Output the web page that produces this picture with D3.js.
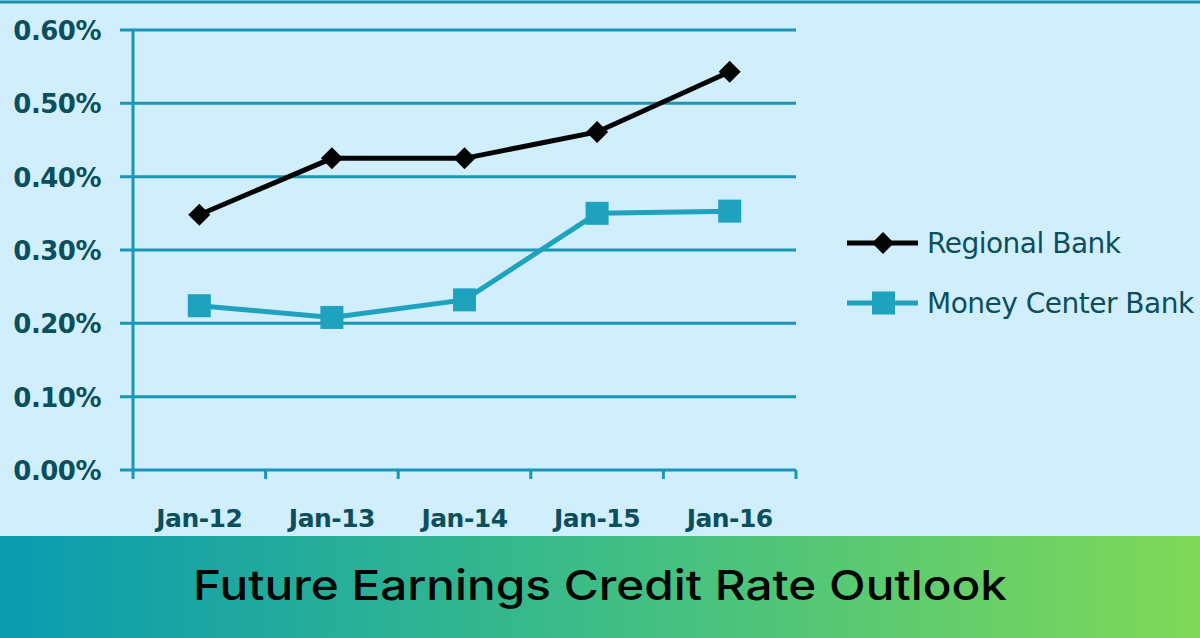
<!DOCTYPE html>
<html>
<head>
<meta charset="utf-8">
<script src="https://cdn.jsdelivr.net/npm/d3@7"></script>
<style>
  body { margin: 0; background: #d0eefb; }
  svg { display: block; }
</style>
</head>
<body>
<div id="chart"></div>
<script>
const categories = ["Jan-12", "Jan-13", "Jan-14", "Jan-15", "Jan-16"];
const regional = [0.348, 0.425, 0.425, 0.461, 0.543];
const moneyCenter = [0.224, 0.208, 0.232, 0.350, 0.353];
const yTicks = [0, 0.1, 0.2, 0.3, 0.4, 0.5, 0.6];
const seriesNames = ["Regional Bank", "Money Center Bank"];

function drawChart() {
    var w = 1200;
    var h = 638;
    var grid = "#1996b6";
    var labelColor = "#0b4f5c";
    var teal = "#1ea2bd";

    var svg = d3.select("#chart")
                .append("svg")
                .attr("width", w)
                .attr("height", h);

    svg.append("rect")
        .attr("width", w).attr("height", h)
        .attr("fill", "#d0eefb");

    // top border line
    svg.append("line")
        .attr("x1", 0).attr("x2", w)
        .attr("y1", 2).attr("y2", 2)
        .attr("stroke", "#1a8fae")
        .attr("stroke-width", 3);

    var xScale = d3.scaleBand()
                .domain(categories)
                .range([133, 796]);

    var yScale = d3.scaleLinear()
                .domain([0, 0.6])
                .range([470, 30]);

    // grid lines
    svg.append("g")
        .selectAll("line")
        .data(yTicks)
        .enter()
        .append("line")
        .attr("x1", 120)
        .attr("x2", 796)
        .attr("y1", d => yScale(d))
        .attr("y2", d => yScale(d))
        .attr("stroke", grid)
        .attr("stroke-width", 3);

    // y axis line
    svg.append("line")
        .attr("x1", 133).attr("x2", 133)
        .attr("y1", yScale(0.6) - 1).attr("y2", 479)
        .attr("stroke", grid)
        .attr("stroke-width", 3);

    // x ticks at band edges
    var edges = categories.map(c => xScale(c)).concat([xScale.range()[1]]);
    svg.append("g")
        .selectAll("line")
        .data(edges.slice(1))
        .enter()
        .append("line")
        .attr("x1", d => d).attr("x2", d => d)
        .attr("y1", 470).attr("y2", 479)
        .attr("stroke", grid)
        .attr("stroke-width", 3);

    // y tick labels
    svg.append("g")
        .selectAll("text")
        .data(yTicks)
        .enter()
        .append("text")
        .attr("x", 101)
        .attr("y", d => yScale(d) + 10)
        .attr("text-anchor", "end")
        .attr("fill", labelColor)
        .style("font-family", "'DejaVu Sans', sans-serif")
        .style("font-size", "26px")
        .style("font-weight", "bold")
        .style("letter-spacing", "-0.5px")
        .text(d => d3.format(".2f")(d) + "%");

    // x tick labels
    svg.append("g")
        .selectAll("text")
        .data(categories)
        .enter()
        .append("text")
        .attr("x", d => xScale(d) + xScale.bandwidth() / 2)
        .attr("y", 527)
        .attr("text-anchor", "middle")
        .attr("fill", labelColor)
        .style("font-family", "'DejaVu Sans', sans-serif")
        .style("font-size", "25px")
        .style("font-weight", "bold")
        .style("letter-spacing", "-0.5px")
        .text(d => d);

    var cx = d => xScale(d) + xScale.bandwidth() / 2;

    var line = d3.line()
            .x((d, i) => cx(categories[i]))
            .y(d => yScale(d));

    // money center line
    svg.append("path")
        .datum(moneyCenter)
        .attr("fill", "none")
        .attr("stroke", teal)
        .attr("stroke-width", 5)
        .attr("d", line);

    svg.append("g")
        .selectAll("rect")
        .data(moneyCenter)
        .enter()
        .append("rect")
        .attr("x", (d, i) => cx(categories[i]) - 11.5)
        .attr("y", d => yScale(d) - 11.5)
        .attr("width", 23)
        .attr("height", 23)
        .attr("fill", teal);

    // regional line
    svg.append("path")
        .datum(regional)
        .attr("fill", "none")
        .attr("stroke", "#050505")
        .attr("stroke-width", 5)
        .attr("d", line);

    var diamond = d3.symbol().type(d3.symbolDiamond2).size(310);
    svg.append("g")
        .selectAll("path")
        .data(regional)
        .enter()
        .append("path")
        .attr("d", diamond)
        .attr("transform", (d, i) => "translate(" + cx(categories[i]) + "," + yScale(d) + ")")
        .attr("fill", "#050505");

    // legend
    var legend = svg.append("g");
    var legendColors = ["#050505", teal];
    seriesNames.forEach((name, i) => {
        var ly = 243 + i * 60;
        legend.append("line")
            .attr("x1", 847).attr("x2", 918)
            .attr("y1", ly).attr("y2", ly)
            .attr("stroke", legendColors[i])
            .attr("stroke-width", 5);
        if (i === 0) {
            legend.append("path")
                .attr("d", diamond)
                .attr("transform", "translate(883," + ly + ")")
                .attr("fill", legendColors[i]);
        } else {
            legend.append("rect")
                .attr("x", 872).attr("y", ly - 11.5)
                .attr("width", 23).attr("height", 23)
                .attr("fill", legendColors[i]);
        }
        legend.append("text")
            .attr("x", 927)
            .attr("y", ly + 10)
            .attr("fill", labelColor)
            .style("font-family", "'DejaVu Sans', sans-serif")
            .style("font-size", "28px")
            .style("letter-spacing", "-0.5px")
            .text(name);
    });

    // title banner
    var defs = svg.append("defs");
    var grad = defs.append("linearGradient").attr("id", "banner");
    grad.append("stop").attr("offset", "0%").attr("stop-color", "#0a9bb0");
    grad.append("stop").attr("offset", "50%").attr("stop-color", "#3dbd86");
    grad.append("stop").attr("offset", "100%").attr("stop-color", "#7fd957");

    svg.append("rect")
        .attr("x", 0).attr("y", 536)
        .attr("width", w).attr("height", h - 536)
        .attr("fill", "url(#banner)");

    svg.append("text")
        .attr("x", 193)
        .attr("y", 600)
        .attr("textLength", 814)
        .attr("lengthAdjust", "spacingAndGlyphs")
        .attr("fill", "#050505")
        .style("font-family", "Inter, Roboto, sans-serif")
        .style("font-size", "41px")
        .style("font-weight", "500")
        .text("Future Earnings Credit Rate Outlook");
}

window.onload = drawChart;
</script>
</body>
</html>
